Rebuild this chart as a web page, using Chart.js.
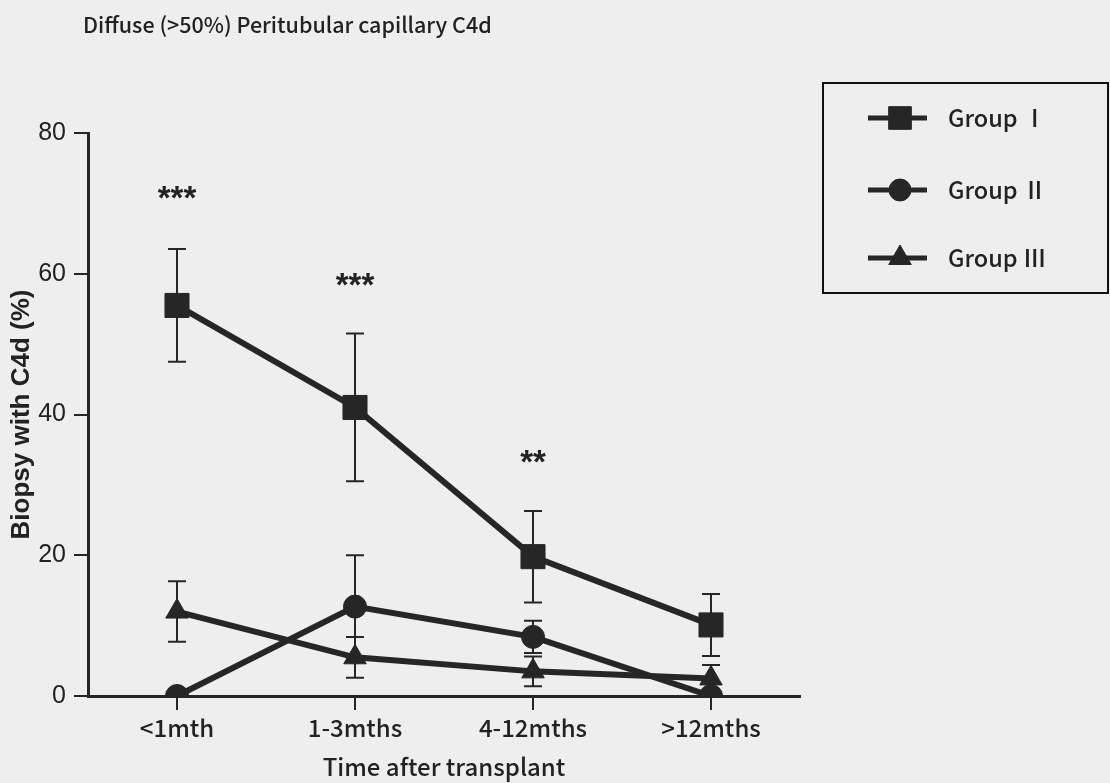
<!DOCTYPE html>
<html>
<head>
<meta charset="utf-8">
<script src="https://cdn.jsdelivr.net/npm/chart.js@4/dist/chart.umd.min.js"></script>
<style>
  html, body { margin: 0; padding: 0; background: #eeeeee; }
  #wrap { width: 1110px; height: 783px; }
</style>
</head>
<body>
<div id="wrap"><canvas id="c" width="1110" height="783"></canvas></div>
<script>
// ---- data ----
const categories = ['<1mth', '1-3mths', '4-12mths', '>12mths'];
const groupI   = [55.5, 41.0, 19.8, 10.1];
const errI     = [8.0, 10.5, 6.5, 4.4];
const groupII  = [0, 12.7, 8.4, 0];
const errII    = [0, 7.3, 2.3, 0];
const groupIII = [12.0, 5.5, 3.5, 2.5];
const errIII   = [4.3, 2.9, 2.1, 1.9];
const sigLabels = ['***', '***', '**', ''];
const sigLevel  = [71.6, 59.2, 34.0, null];
const yTicks = [0, 20, 40, 60, 80];
const seriesNames = ['Group \u2160', 'Group \u2161', 'Group \u2162'];

const INK = '#262626';
const gothic = '"Noto Sans CJK JP", "Noto Sans", sans-serif';
const arial = '"Liberation Sans", Arial, sans-serif';

const bgPlugin = {
  id: 'bg',
  beforeDraw(chart) {
    const ctx = chart.ctx;
    ctx.save();
    ctx.fillStyle = '#eeeeee';
    ctx.fillRect(0, 0, chart.width, chart.height);
    ctx.restore();
  }
};

const errorBars = {
  id: 'errorBars',
  beforeDatasetsDraw(chart) {
    const ctx = chart.ctx;
    const x = chart.scales.x, y = chart.scales.y;
    ctx.save();
    ctx.strokeStyle = INK;
    ctx.lineWidth = 2;
    chart.data.datasets.forEach(ds => {
      ds.data.forEach((v, i) => {
        const e = ds.errors[i];
        if (!e) return;
        const px = x.getPixelForValue(i);
        const top = y.getPixelForValue(v + e);
        const bot = y.getPixelForValue(Math.max(0, v - e));
        ctx.beginPath();
        ctx.moveTo(px, top); ctx.lineTo(px, bot);
        ctx.moveTo(px - 9, top); ctx.lineTo(px + 9, top);
        ctx.moveTo(px - 9, bot); ctx.lineTo(px + 9, bot);
        ctx.stroke();
      });
    });
    ctx.restore();
  }
};

function drawMarker(ctx, style, r, cx, cy) {
  if (Chart.helpers && Chart.helpers.drawPoint) {
    Chart.helpers.drawPoint(ctx, { pointStyle: style, radius: r, rotation: 0, borderWidth: 1 }, cx, cy);
    return;
  }
  ctx.beginPath();
  if (style === 'rect') { const s = r * Math.SQRT1_2; ctx.rect(cx - s, cy - s, 2 * s, 2 * s); }
  else if (style === 'circle') { ctx.arc(cx, cy, r, 0, Math.PI * 2); }
  else { ctx.moveTo(cx, cy - r); ctx.lineTo(cx + r * 0.866, cy + r / 2); ctx.lineTo(cx - r * 0.866, cy + r / 2); ctx.closePath(); }
  ctx.fill(); ctx.stroke();
}

const annotations = {
  id: 'annotations',
  afterDraw(chart) {
    const ctx = chart.ctx;
    const x = chart.scales.x, y = chart.scales.y;
    ctx.save();
    // title
    ctx.fillStyle = '#222';
    ctx.font = '500 21.5px ' + gothic;
    ctx.textBaseline = 'middle';
    ctx.textAlign = 'left';
    ctx.fillText('Diffuse (>50%) Peritubular capillary C4d', 83, 25);

    // significance stars
    ctx.font = 'bold 33px ' + arial;
    ctx.textAlign = 'center';
    ctx.textBaseline = 'alphabetic';
    sigLabels.forEach((s, i) => {
      if (!s) return;
      const m = ctx.measureText(s);
      const off = (m.actualBoundingBoxAscent - m.actualBoundingBoxDescent) / 2;
      ctx.fillText(s, x.getPixelForValue(i), y.getPixelForValue(sigLevel[i]) + off);
    });

    // legend
    const lx = chart.chartArea.right + 23, ly = 83, lw = 285, lh = 210;
    ctx.lineWidth = 2;
    ctx.strokeStyle = '#111';
    ctx.strokeRect(lx, ly, lw, lh);
    const rows = [118, 190, 258];
    chart.data.datasets.forEach((ds, i) => {
      const cy = rows[i];
      ctx.strokeStyle = INK;
      ctx.lineWidth = 5;
      ctx.beginPath();
      ctx.moveTo(lx + 45, cy); ctx.lineTo(lx + 104, cy);
      ctx.stroke();
      ctx.fillStyle = INK;
      ctx.strokeStyle = INK;
      ctx.lineWidth = 1;
      drawMarker(ctx, ds.pointStyle, ds.legendRadius, lx + 77, cy);
      ctx.fillStyle = '#222';
      ctx.font = '500 23.5px ' + gothic;
      ctx.textAlign = 'left';
      ctx.textBaseline = 'middle';
      ctx.fillText(ds.label, lx + 125, cy);
    });
    ctx.restore();
  }
};

const mk = (label, data, errors, style, r, lr) => ({
  label, data, errors,
  borderColor: INK, backgroundColor: INK,
  borderWidth: 6,
  pointStyle: style, pointRadius: r, pointHoverRadius: r,
  pointBackgroundColor: INK, pointBorderColor: INK, pointBorderWidth: 1,
  legendRadius: lr,
  tension: 0, fill: false
});

new Chart(document.getElementById('c'), {
  type: 'line',
  data: {
    labels: categories,
    datasets: [
      mk(seriesNames[0], groupI, errI, 'rect', 17, 16),
      mk(seriesNames[1], groupII, errII, 'circle', 11.5, 11),
      mk(seriesNames[2], groupIII, errIII, 'triangle', 13, 13)
    ]
  },
  options: {
    responsive: false,
    animation: false,
    devicePixelRatio: 1,
    layout: { padding: { top: 133, right: 310, left: 0, bottom: 0 } },
    plugins: { legend: { display: false }, tooltip: { enabled: false }, title: { display: false } },
    scales: {
      x: {
        type: 'category',
        offset: true,
        grid: { display: true, drawOnChartArea: false, drawTicks: true, tickLength: 14, tickColor: INK, lineWidth: 2, offset: false },
        border: { display: true, color: INK, width: 3 },
        ticks: { color: '#222', font: { family: gothic, size: 24, weight: '500' }, padding: 3, maxRotation: 0 },
        title: { display: true, text: 'Time after transplant', color: '#222', font: { family: gothic, size: 24, weight: '500' }, padding: { top: 0, bottom: 2 } },
        afterFit(s) { s.height = 87; }
      },
      y: {
        min: 0, max: 80,
        afterBuildTicks(s) { s.ticks = yTicks.map(v => ({ value: v })); },
        grid: { display: true, drawOnChartArea: false, drawTicks: true, tickLength: 14, tickColor: INK, lineWidth: 2 },
        border: { display: true, color: INK, width: 3 },
        ticks: { color: '#222', font: { family: arial, size: 25 }, padding: 8 },
        title: { display: true, text: 'Biopsy with C4d (%)', color: '#222', font: { family: arial, size: 26, weight: 'bold' }, padding: { top: 6, bottom: 0 } },
        afterFit(s) { s.width = 88; }
      }
    }
  },
  plugins: [bgPlugin, errorBars, annotations]
});
</script>
</body>
</html>
